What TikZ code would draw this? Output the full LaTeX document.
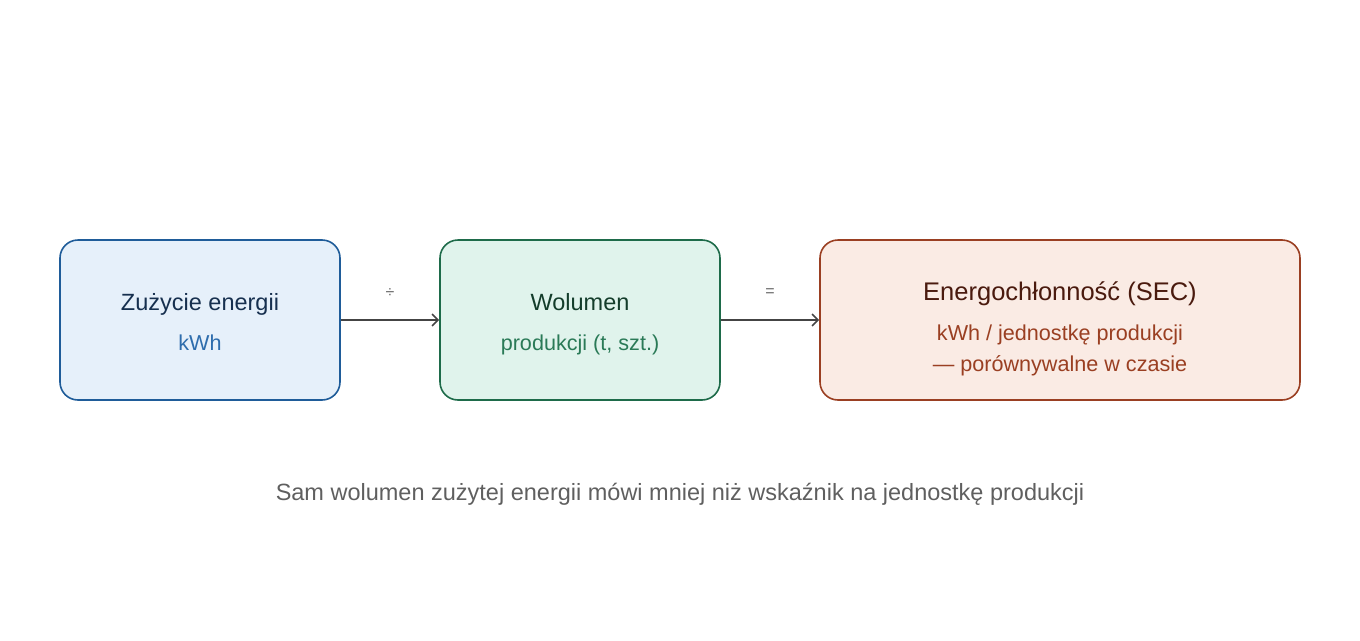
\documentclass[tikz,border=0pt]{standalone}
\usepackage{fontspec}
\setmainfont{Liberation Sans}
\usetikzlibrary{arrows.meta}
\definecolor{bAfill}{HTML}{E6F0FA}
\definecolor{bAline}{HTML}{1F5C99}
\definecolor{bAtitle}{HTML}{17304F}
\definecolor{bAsub}{HTML}{2E6DAD}
\definecolor{bBfill}{HTML}{E0F3EC}
\definecolor{bBline}{HTML}{1E6B4A}
\definecolor{bBtitle}{HTML}{143D2B}
\definecolor{bBsub}{HTML}{2A7A57}
\definecolor{bCfill}{HTML}{FAEBE4}
\definecolor{bCline}{HTML}{9A3F22}
\definecolor{bCtitle}{HTML}{4A1A0E}
\definecolor{bCsub}{HTML}{9A3F22}
\definecolor{capgray}{HTML}{5F5F5F}
\definecolor{arrowgray}{HTML}{444444}
\definecolor{oplabel}{HTML}{666666}
\tikzset{
  card/.style={draw, line width=1.6pt, rounded corners=18pt, minimum height=160pt, inner sep=0pt},
  ttl/.style={anchor=base, font=\fontsize{23.5}{28}\selectfont},
  sub/.style={anchor=base, font=\fontsize{21.6}{26}\selectfont},
  conn/.style={draw=arrowgray, line width=1.6pt, -{Straight Barb[length=6pt,width=12pt,line width=1.6pt]}},
  oplbl/.style={font=\fontsize{16}{19}\selectfont, text=oplabel},
}
\begin{document}
\begin{tikzpicture}[x=1pt,y=-1pt]
\useasboundingbox (0,0) rectangle (1360,640);
\node[card, fill=bAfill, draw=bAline, minimum width=280pt] (a) at (200,320) {};
\node[card, fill=bBfill, draw=bBline, minimum width=280pt] (b) at (580,320) {};
\node[card, fill=bCfill, draw=bCline, minimum width=480pt] (c) at (1060,320) {};
\node[ttl, text=bAtitle] (at) at (200,310) {Zużycie energii};
\node[sub, text=bAsub] (as) at (200,350) {kWh};
\node[ttl, text=bBtitle] (bt) at (580,310) {Wolumen};
\node[sub, text=bBsub] (bs) at (580,350) {produkcji (t, szt.)};
\node[ttl, text=bCtitle, font=\fontsize{25.5}{30}\selectfont] (ct) at (1060,300) {Energochłonność (SEC)};
\node[sub, text=bCsub] (cs1) at (1060,340) {kWh / jednostkę produkcji};
\node[sub, text=bCsub] (cs2) at (1060,371) {— porównywalne w czasie};
\draw[conn] (a.east) -- (b.west);
\draw[conn] (b.east) -- (c.west);
\node[oplbl] (op1) at (390,293) {÷};
\node[oplbl] (op2) at (770,293) {=};
\node[anchor=base, text=capgray, font=\fontsize{23.5}{28}\selectfont] (cap) at (680,500) {Sam wolumen zużytej energii mówi mniej niż wskaźnik na jednostkę produkcji};
\end{tikzpicture}
\end{document}
